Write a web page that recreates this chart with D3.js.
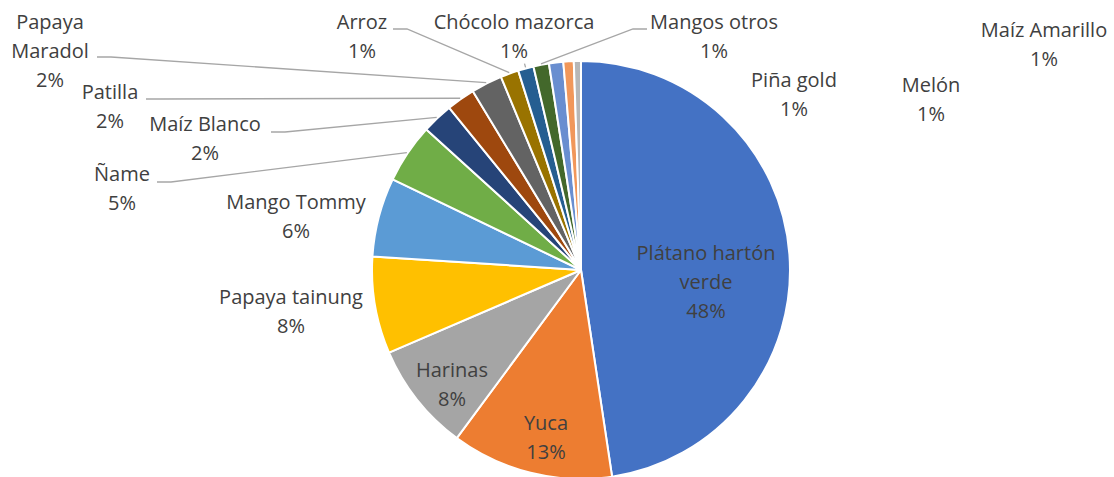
<!doctype html>
<html lang="es">
<head>
	<meta charset="UTF-8">
	<title>Pie</title>
	<script src="https://d3js.org/d3.v7.min.js"></script>
	<style>
		body { margin: 0; background: #fff; }
		text { font-family: 'Open Sans', sans-serif; font-size: 20px; fill: #404040; }
	</style>
</head>
<body>
	<div id="chart"></div>
	<script>
		// data
		var categories = ['Plátano hartón verde', 'Yuca', 'Harinas', 'Papaya tainung', 'Mango Tommy', 'Ñame',
			'Maíz Blanco', 'Patilla', 'Papaya Maradol', 'Arroz', 'Chócolo mazorca', 'Mangos otros',
			'Piña gold', 'Melón', 'Maíz Amarillo']
		var values = [47.6, 12.5, 8.4, 7.5, 6.1, 4.6, 2.4, 2.2, 2.4, 1.4, 1.2, 1.2, 1.1, 0.8, 0.55]
		var colors = ['#4472C4', '#ED7D31', '#A5A5A5', '#FFC000', '#5B9BD5', '#70AD47', '#264478', '#9E480E',
			'#636363', '#997300', '#255E91', '#43682B', '#698ED0', '#F1975A', '#B7B7B7']

		// label layout (center of first line), wraps and leader anchors
		var label_pos = [[706, 253], [546, 423], [452, 370], [291, 297], [296, 202], [122, 174], [205, 124],
			[110, 92], [50, 22], [362, 22], [514, 22], [714, 22], [794, 80], [931, 85], [1044, 30]]
		var wraps = {0: ['Plátano hartón', 'verde'], 8: ['Papaya', 'Maradol']}
		var leaders = {5: [157, 182, 1], 6: [271, 132, 1], 7: [146, 99, 1], 8: [97, 57, 1], 9: [393, 29, 1], 11: [647, 29, -1]}

		var w = 1114, h = 477
		var cx = 581, cy = 270, r = 209
		var line_h = 29

		var svg = d3.select('#chart').append('svg')
			.attr('width', w)
			.attr('height', h)

		var total = d3.sum(values)
		var pie = d3.pie().sort(null).value(function(d) { return d })
		var arcs = pie(values)
		var arc = d3.arc().innerRadius(0).outerRadius(r)
		var edge = d3.arc().innerRadius(r + 1).outerRadius(r + 1)

		var g = svg.append('g').attr('transform', 'translate(' + cx + ',' + cy + ')')

		g.selectAll('path.slice')
			.data(arcs)
			.enter().append('path')
			.attr('class', 'slice')
			.attr('d', arc)
			.attr('fill', function(d, i) { return colors[i] })
			.attr('stroke', '#fff')
			.attr('stroke-width', 2)
			.attr('stroke-linejoin', 'round')

		// leader lines
		Object.keys(leaders).forEach(function(k) {
			var i = +k
			var L = leaders[k]
			var p = edge.centroid(arcs[i])
			var pts = [[L[0], L[1]], [L[0] + 14 * L[2], L[1]], [p[0] + cx, p[1] + cy]]
			svg.append('polyline')
				.attr('points', pts.map(function(q) { return q.join(',') }).join(' '))
				.attr('fill', 'none')
				.attr('stroke', '#A6A6A6')
				.attr('stroke-width', 1.3)
		})
		// tiny leader for Chócolo mazorca
		var c0 = d3.arc().innerRadius(r + 1).outerRadius(r + 1).centroid(arcs[10])
		var c1 = d3.arc().innerRadius(r + 5).outerRadius(r + 5).centroid(arcs[10])
		svg.append('line')
			.attr('x1', c0[0] + cx).attr('y1', c0[1] + cy)
			.attr('x2', c1[0] + cx).attr('y2', c1[1] + cy)
			.attr('stroke', '#A6A6A6')
			.attr('stroke-width', 1.3)

		// labels
		categories.forEach(function(name, i) {
			var lines = wraps[i] ? wraps[i].slice() : [name]
			lines.push(Math.round(values[i] / total * 100) + '%')
			var t = svg.append('text')
				.attr('text-anchor', 'middle')
			lines.forEach(function(s, j) {
				t.append('tspan')
					.attr('x', label_pos[i][0])
					.attr('y', label_pos[i][1] + j * line_h)
					.attr('dy', '0.35em')
					.text(s)
			})
		})
	</script>
</body>
</html>
